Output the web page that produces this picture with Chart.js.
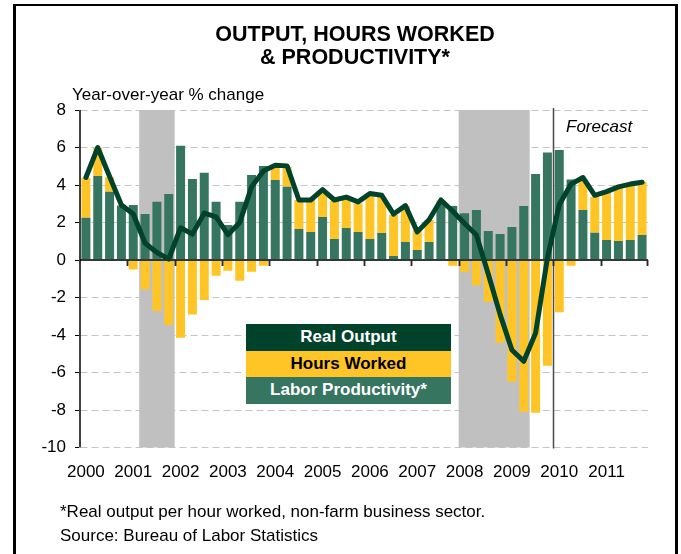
<!DOCTYPE html>
<html>
<head>
<meta charset="utf-8">
<title>Output, Hours Worked &amp; Productivity</title>
<script src="https://cdn.jsdelivr.net/npm/chart.js@4.4.1/dist/chart.umd.min.js"></script>
<style>
  html, body { margin: 0; padding: 0; background: #fff; }
  body { position: relative; width: 681px; height: 554px; overflow: hidden;
         font-family: "Liberation Sans", Arial, sans-serif; color: #000; }
  #chart { position: absolute; left: 0; top: 0; }
  .frame { position: absolute; left: 13px; top: 4px; width: 659px; height: 600px;
           border: 3px solid #000; border-top-width: 2.5px; }
  .txt { position: absolute; white-space: nowrap; }
  .title { left: 0; width: 710px; top: 23px; text-align: center; font-weight: bold;
           font-size: 21.5px; line-height: 23px; }
  .unit { left: 72px; top: 86px; font-size: 17px; line-height: 17px; }
  .forecast { left: 566px; top: 118px; font-size: 17px; line-height: 17px; font-style: italic; }
  .note { left: 60px; top: 500px; font-size: 17px; line-height: 24px; }
  .legend { position: absolute; left: 246px; top: 324px; width: 205px; }
  .legend div { height: 26.7px; line-height: 26.7px; text-align: center;
                font-weight: bold; font-size: 17px; }
</style>
</head>
<body>
<canvas id="chart" width="681" height="554"></canvas>
<div class="frame"></div>
<div class="txt title">OUTPUT, HOURS WORKED<br>&amp; PRODUCTIVITY*</div>
<div class="txt unit">Year-over-year % change</div>
<div class="txt forecast">Forecast</div>
<div class="legend">
  <div style="background:#00422a;color:#fff">Real Output</div>
  <div style="background:#ffc526;color:#000">Hours Worked</div>
  <div style="background:#367560;color:#fff">Labor Productivity*</div>
</div>
<div class="txt note">*Real output per hour worked, non-farm business sector.<br>Source: Bureau of Labor Statistics</div>

<script>
// quarterly data, 2000 Q1 .. 2011 Q4 (year-over-year % change)
const years = ['2000','2001','2002','2003','2004','2005','2006','2007','2008','2009','2010','2011'];
const quarters = years.flatMap(y => ['Q1','Q2','Q3','Q4'].map(q => y + ' ' + q));

const productivity = [
  2.26, 4.48, 3.64, 2.90,   2.93, 2.45, 3.11, 3.52,   6.10, 4.32, 4.66, 3.11,
  1.87, 3.11, 4.53, 5.01,   4.27, 3.91, 1.65, 1.49,   2.29, 1.12, 1.71, 1.49,
  1.12, 1.44, 0.21, 0.96,   0.53, 0.96, 3.00, 2.88,   2.49, 2.67, 1.55, 1.39,
  1.76, 2.88, 4.59, 5.74,   5.87, 4.30, 2.67, 1.46,   1.07, 1.01, 1.07, 1.33
];
const hoursWorked = [
  2.13, 1.49, 0.77, 0.05,  -0.50,-1.56,-2.72,-3.47,  -4.14,-2.90,-2.13,-0.84,
 -0.57,-1.10,-0.62,-0.30,   0.74, 1.07, 1.55, 1.71,   1.40, 2.03, 1.61, 1.53,
  2.35, 1.94, 2.19, 1.92,   1.07, 1.19, 0.18,-0.30,  -0.62,-1.35,-2.22,-4.41,
 -6.49,-8.09,-8.14,-5.64,  -2.79,-0.30, 1.56, 1.92,   2.57, 2.86, 2.93, 2.85
];
const realOutput = [
  4.40, 6.00, 4.45, 2.93,   2.45, 0.89, 0.40, 0.05,   1.72, 1.38, 2.50, 2.30,
  1.35, 2.00, 3.90, 4.75,   5.05, 5.02, 3.20, 3.20,   3.75, 3.20, 3.35, 3.10,
  3.55, 3.45, 2.45, 2.90,   1.50, 2.15, 3.20, 2.60,   1.95, 1.33,-0.75,-2.90,
 -4.80,-5.40,-3.90, 0.10,   2.95, 4.05, 4.40, 3.45,   3.65, 3.90, 4.05, 4.15
];
const recessions = [['2001 Q2', '2001 Q4'], ['2008 Q1', '2009 Q2']];
const forecastFrom = '2010 Q1';
const yTicks = { min: -10, max: 8, step: 2 };

const FONT = '"Liberation Sans", Arial, sans-serif';
const DARK = '#00422a', GOLD = '#ffc526', TEAL = '#367560';

const decorations = {
  id: 'decorations',
  beforeDatasetsDraw(chart) {
    const { ctx, chartArea: a, scales: { x } } = chart;
    const half = (x.getPixelForValue(1) - x.getPixelForValue(0)) / 2;
    ctx.save();
    ctx.fillStyle = '#c0c0c0';
    recessions.forEach(([from, to]) => {
      const x0 = x.getPixelForValue(quarters.indexOf(from)) - half;
      const x1 = x.getPixelForValue(quarters.indexOf(to)) + half;
      ctx.fillRect(x0, a.top, x1 - x0, a.bottom - a.top);
    });
    const xf = Math.round(x.getPixelForValue(quarters.indexOf(forecastFrom)) - half) + 0.5;
    ctx.strokeStyle = '#4a4a4a';
    ctx.lineWidth = 1.5;
    ctx.beginPath();
    ctx.moveTo(xf, a.top - 2);
    ctx.lineTo(xf, a.bottom + 1);
    ctx.stroke();
    ctx.restore();
  },
  afterDatasetDraw(chart, args) {
    if (args.meta.type !== 'bar') return;
    const { ctx, chartArea: a, scales: { x, y } } = chart;
    const y0 = y.getPixelForValue(0);
    const half = (x.getPixelForValue(1) - x.getPixelForValue(0)) / 2;
    ctx.save();
    ctx.strokeStyle = '#2b2b2b';
    ctx.lineWidth = 1.5;
    ctx.beginPath();
    ctx.moveTo(a.left, y0);
    ctx.lineTo(a.right, y0);
    // year tick marks below the zero line
    quarters.forEach((q, i) => {
      if (i > 0 && q.endsWith('Q1')) {
        const xt = Math.round(x.getPixelForValue(i) - half) + 0.5;
        ctx.moveTo(xt, y0);
        ctx.lineTo(xt, y0 + 6);
      }
    });
    ctx.moveTo(a.right - 0.5, y0);
    ctx.lineTo(a.right - 0.5, y0 + 6);
    ctx.stroke();
    ctx.restore();
  },
  afterDraw(chart) {
    // solid y axis line (the scale border is used for the grid dashes)
    const { ctx, chartArea: a } = chart;
    ctx.save();
    ctx.strokeStyle = '#000';
    ctx.lineWidth = 1.5;
    ctx.beginPath();
    ctx.moveTo(a.left, a.top);
    ctx.lineTo(a.left, a.bottom);
    ctx.stroke();
    ctx.restore();
  }
};

new Chart(document.getElementById('chart'), {
  data: {
    labels: quarters,
    datasets: [
      {
        type: 'line', label: 'Real Output', data: realOutput, stack: 'output', order: 0,
        borderColor: DARK, borderWidth: 5, pointRadius: 0, tension: 0,
        borderJoinStyle: 'round', borderCapStyle: 'round', fill: false
      },
      {
        type: 'bar', label: 'Labor Productivity*', data: productivity, stack: 'bars', order: 1,
        backgroundColor: TEAL, barPercentage: 0.76, categoryPercentage: 1
      },
      {
        type: 'bar', label: 'Hours Worked', data: hoursWorked, stack: 'bars', order: 2,
        backgroundColor: GOLD, barPercentage: 0.76, categoryPercentage: 1
      }
    ]
  },
  options: {
    responsive: false,
    animation: false,
    layout: { padding: { top: 110, right: 33, left: 0, bottom: 0 } },
    plugins: { legend: { display: false }, tooltip: { enabled: false } },
    scales: {
      x: {
        stacked: true,
        offset: true,
        afterFit(s) { s.height = 106.5; },
        grid: { display: false },
        border: { display: false },
        ticks: {
          autoSkip: false, maxRotation: 0, padding: 7, color: '#000',
          font: { family: FONT, size: 17 },
          callback(v) {
            const l = this.getLabelForValue(v);
            return l.endsWith('Q1') ? l.slice(0, 4) : '';
          }
        }
      },
      y: {
        stacked: true,
        min: yTicks.min, max: yTicks.max,
        afterFit(s) { s.width = 80; },
        ticks: { stepSize: yTicks.step, padding: 9, color: '#000', font: { family: FONT, size: 17 } },
        grid: {
          color: c => (c.tick && c.tick.value === 0) ? 'rgba(0,0,0,0)' : '#c4c4c4',
          lineWidth: 1,
          tickColor: '#000', tickLength: 5, tickWidth: 1, tickBorderDash: []
        },
        border: { display: true, color: 'rgba(0,0,0,0)', width: 1.5, dash: [7, 4] }
      }
    }
  },
  plugins: [decorations]
});
</script>
</body>
</html>
